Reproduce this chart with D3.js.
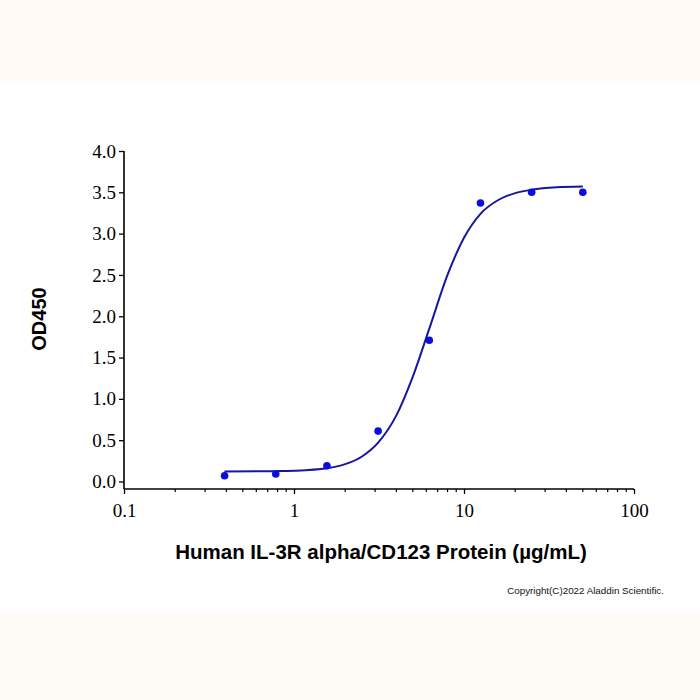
<!DOCTYPE html>
<html>
<head>
<meta charset="utf-8">
<script src="https://cdn.jsdelivr.net/npm/d3@7"></script>
<style>
  html, body { margin: 0; padding: 0; background: #fff; }
  svg { display: block; }
</style>
</head>
<body>
<svg id="chart"></svg>
<script>
// measured points (conc in ug/mL, OD450)
const concentrations = [0.390625, 0.78125, 1.5625, 3.125, 6.25, 12.5, 25, 50]
const od450 = [0.07, 0.09, 0.19, 0.61, 1.71, 3.37, 3.50, 3.50]

// fitted curve
const fitConc = [0.39, 0.78, 1.0, 1.56, 2.0, 2.5, 3.125, 4, 5, 6.25, 8, 10, 12.5, 16, 20, 25, 35, 50]
const fitOD = [0.12, 0.125, 0.13, 0.16, 0.21, 0.30, 0.47, 0.80, 1.27, 1.85, 2.50, 2.95, 3.24, 3.41, 3.49, 3.53, 3.56, 3.57]

const yTicks = [0, 0.5, 1.0, 1.5, 2.0, 2.5, 3.0, 3.5, 4.0]
const xTicks = [0.1, 1, 10, 100]

const W = 700, H = 700
const svg = d3.select("#chart").attr("width", W).attr("height", H)

// pale page bands top and bottom
const defs = svg.append("defs")
const gTop = defs.append("linearGradient").attr("id", "fadeTop").attr("x1", 0).attr("y1", 0).attr("x2", 0).attr("y2", 1)
gTop.append("stop").attr("offset", 0).attr("stop-color", "#fffaf6")
gTop.append("stop").attr("offset", 1).attr("stop-color", "#ffffff")
const gBot = defs.append("linearGradient").attr("id", "fadeBot").attr("x1", 0).attr("y1", 0).attr("x2", 0).attr("y2", 1)
gBot.append("stop").attr("offset", 0).attr("stop-color", "#ffffff")
gBot.append("stop").attr("offset", 1).attr("stop-color", "#fefaf6")

svg.append("rect").attr("x", 0).attr("y", 0).attr("width", W).attr("height", 80).attr("fill", "#fffaf6")
svg.append("rect").attr("x", 0).attr("y", 80).attr("width", W).attr("height", 6).attr("fill", "url(#fadeTop)")
svg.append("rect").attr("x", 0).attr("y", 608).attr("width", W).attr("height", 8).attr("fill", "url(#fadeBot)")
svg.append("rect").attr("x", 0).attr("y", 616).attr("width", W).attr("height", 84).attr("fill", "#fefaf6")

var x = d3.scaleLog()
    .domain([0.1, 100])
    .range([124, 634])

var y = d3.scaleLinear()
    .domain([0, 4])
    .range([481.5, 151])

const axisY = 489

// x axis
var xAxis = svg.append("g")
    .attr("transform", `translate(0,${axisY})`)
    .call(d3.axisBottom(x).tickValues(xTicks).tickFormat(d3.format("")).tickSize(5).tickPadding(10))
xAxis.select(".domain").attr("stroke", "#000").attr("stroke-width", 1.6)
    .attr("d", `M${x(0.1)},0H${x(100)}`)
xAxis.selectAll(".tick line").attr("stroke-width", 1.3)
xAxis.selectAll(".tick text")
    .style("font-family", "'Liberation Serif', 'Times New Roman', serif")
    .style("font-size", "19px")
    .attr("fill", "#000")

// minor ticks 2..9 of each decade
const minor = []
xTicks.slice(0, -1).forEach(d => d3.range(2, 10).forEach(k => minor.push(d * k)))
svg.append("g").selectAll("line")
    .data(minor)
    .join("line")
    .attr("x1", d => x(d)).attr("x2", d => x(d))
    .attr("y1", axisY).attr("y2", axisY + 3)
    .attr("stroke", "#000").attr("stroke-width", 1.2)

// y axis
var yAxis = svg.append("g")
    .attr("transform", `translate(${x(0.1)},0)`)
    .call(d3.axisLeft(y).tickValues(yTicks).tickFormat(d3.format(".1f")).tickSize(5).tickPadding(3))
yAxis.select(".domain").attr("stroke", "#000").attr("stroke-width", 1.6)
    .attr("d", `M0,${y(4)}V${axisY}`)
yAxis.selectAll(".tick line").attr("stroke-width", 1.3)
yAxis.selectAll(".tick text")
    .style("font-family", "'Liberation Serif', 'Times New Roman', serif")
    .style("font-size", "19px")
    .attr("fill", "#000")

// fitted curve
var line = d3.line()
    .x((d, i) => x(fitConc[i]))
    .y(d => y(d))
    .curve(d3.curveMonotoneX)

svg.append("path")
    .datum(fitOD)
    .attr("d", line)
    .attr("fill", "none")
    .attr("stroke", "#16169e")
    .attr("stroke-width", 2)

// points
svg.append("g").selectAll("circle")
    .data(od450)
    .join("circle")
    .attr("cx", (d, i) => x(concentrations[i]))
    .attr("cy", d => y(d))
    .attr("r", 3.8)
    .attr("fill", "#0c0ce0")

// axis titles
svg.append("text")
    .attr("x", 381)
    .attr("y", 559)
    .attr("text-anchor", "middle")
    .style("font-family", "'Liberation Sans', Arial, sans-serif")
    .style("font-weight", "bold")
    .style("font-size", "20.5px")
    .text("Human IL-3R alpha/CD123 Protein (µg/mL)")

svg.append("text")
    .attr("transform", "translate(46,319) rotate(-90)")
    .attr("text-anchor", "middle")
    .style("font-family", "'Liberation Sans', Arial, sans-serif")
    .style("font-weight", "bold")
    .style("font-size", "20px")
    .text("OD450")

svg.append("text")
    .attr("x", 664)
    .attr("y", 594)
    .attr("text-anchor", "end")
    .style("font-family", "'Liberation Sans', Arial, sans-serif")
    .style("font-size", "9.8px")
    .attr("fill", "#111")
    .text("Copyright(C)2022 Aladdin Scientific.")
</script>
</body>
</html>
